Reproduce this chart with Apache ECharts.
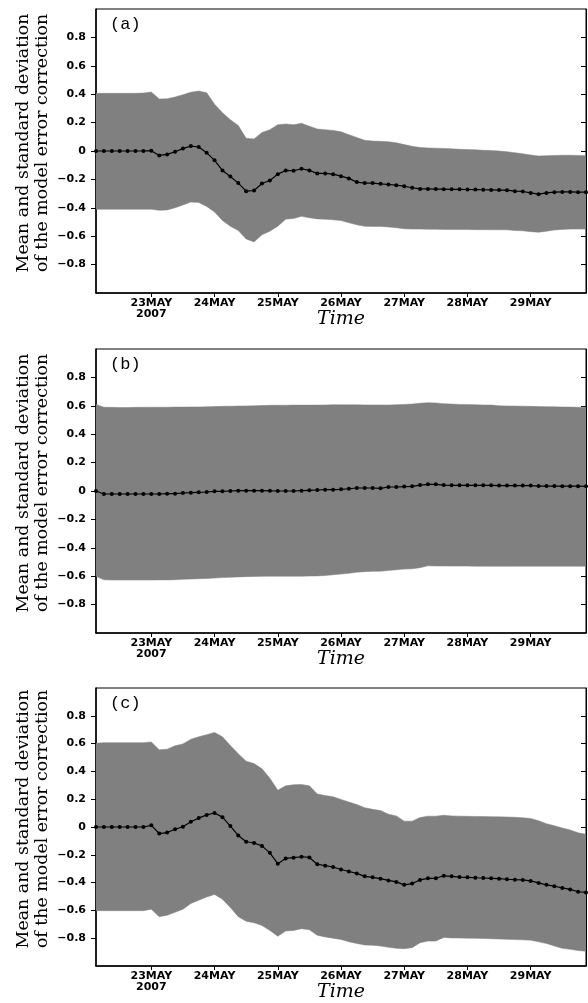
<!DOCTYPE html>
<html>
<head>
<meta charset="utf-8">
<script src="https://cdn.jsdelivr.net/npm/echarts@6/dist/echarts.min.js"></script>
<style>
html,body{margin:0;padding:0;background:#fff;}
#chart{width:588px;height:1003px;}
</style>
</head>
<body>
<div id="chart"></div>
<script>
// time axis: hours after 22 MAY 2007 00Z, 3-hourly
const hours = [3,6,9,12,15,18,21,24,27,30,33,36,39,42,45,48,51,54,57,60,63,66,69,72,75,78,81,84,87,90,93,96,99,102,105,108,111,114,117,120,123,126,129,132,135,138,141,144,147,150,153,156,159,162,165,168,171,174,177,180,183,186,189];
const tickHours = [24,48,72,96,120,144,168];
const tickLabels = ['23MAY\n2007','24MAY','25MAY','26MAY','27MAY','28MAY','29MAY'];
const yTicks = [-0.8,-0.6,-0.4,-0.2,0,0.2,0.4,0.6,0.8];
const panelTags = ['(a)','(b)','(c)'];

// panel (a)
const meanA = [0,0,0,0,0,0,0,
  0.002,-0.031,-0.024,-0.005,0.017,0.035,0.028,-0.012,
  -0.066,-0.137,-0.18,-0.226,-0.283,-0.278,-0.229,-0.208,
  -0.163,-0.137,-0.139,-0.125,-0.137,-0.158,-0.158,-0.163,
  -0.177,-0.193,-0.219,-0.226,-0.226,-0.231,-0.236,-0.241,
  -0.248,-0.259,-0.267,-0.267,-0.268,-0.269,-0.27,-0.27,
  -0.271,-0.272,-0.273,-0.274,-0.275,-0.276,-0.283,-0.285,
  -0.295,-0.304,-0.295,-0.29,-0.288,-0.288,-0.29,-0.29];
const upperA = [0.406,0.406,0.406,0.406,0.406,0.406,0.408,
  0.415,0.366,0.368,0.38,0.396,0.414,0.422,0.41,
  0.33,0.27,0.22,0.18,0.09,0.085,0.13,0.15,
  0.185,0.19,0.185,0.195,0.175,0.155,0.15,0.145,
  0.135,0.115,0.095,0.075,0.07,0.068,0.065,0.058,
  0.045,0.033,0.025,0.022,0.02,0.018,0.015,0.012,
  0.01,0.008,0.005,0.003,0.0,-0.005,-0.012,-0.02,
  -0.028,-0.035,-0.033,-0.031,-0.03,-0.03,-0.031,-0.033];
const lowerA = [-0.41,-0.41,-0.41,-0.41,-0.41,-0.41,-0.41,
  -0.41,-0.418,-0.415,-0.4,-0.38,-0.36,-0.362,-0.39,
  -0.43,-0.49,-0.53,-0.56,-0.62,-0.64,-0.59,-0.565,
  -0.53,-0.48,-0.475,-0.46,-0.47,-0.478,-0.48,-0.485,
  -0.49,-0.505,-0.52,-0.53,-0.531,-0.531,-0.535,-0.54,
  -0.548,-0.55,-0.55,-0.551,-0.551,-0.552,-0.552,-0.553,
  -0.553,-0.554,-0.554,-0.555,-0.555,-0.555,-0.56,-0.562,
  -0.568,-0.572,-0.565,-0.556,-0.552,-0.55,-0.55,-0.55];

// panel (b)
const meanB = [0,
  -0.021,-0.021,-0.021,-0.021,-0.021,-0.021,-0.021,-0.021,
  -0.019,-0.019,-0.014,-0.012,-0.009,-0.007,-0.002,-0.002,
  0,0.002,0.002,0.002,0.002,0.001,0,0,
  0,0.002,0.005,0.007,0.009,0.009,0.012,0.016,
  0.021,0.021,0.021,0.019,0.028,0.028,0.031,0.033,
  0.042,0.047,0.047,0.042,0.04,0.04,0.04,0.04,
  0.04,0.04,0.038,0.038,0.038,0.038,0.038,0.035,
  0.035,0.035,0.034,0.034,0.034,0.033];
const upperB = [0.61,
  0.59,0.589,0.588,0.588,0.589,0.59,0.59,0.59,
  0.59,0.591,0.591,0.592,0.592,0.593,0.595,0.596,
  0.597,0.598,0.599,0.6,0.602,0.603,0.604,0.604,
  0.605,0.605,0.605,0.605,0.606,0.608,0.607,0.607,
  0.607,0.606,0.606,0.606,0.605,0.608,0.61,0.612,
  0.618,0.622,0.62,0.615,0.612,0.61,0.609,0.608,
  0.606,0.605,0.6,0.599,0.598,0.597,0.596,0.595,
  0.594,0.593,0.592,0.591,0.59,0.59];
const lowerB = [-0.6,
  -0.625,-0.627,-0.627,-0.627,-0.627,-0.627,-0.627,-0.626,
  -0.626,-0.625,-0.622,-0.62,-0.618,-0.616,-0.613,-0.61,
  -0.608,-0.605,-0.603,-0.602,-0.601,-0.6,-0.6,-0.6,
  -0.6,-0.6,-0.599,-0.598,-0.595,-0.59,-0.585,-0.58,
  -0.572,-0.568,-0.566,-0.565,-0.56,-0.555,-0.55,-0.548,
  -0.54,-0.527,-0.528,-0.528,-0.529,-0.529,-0.529,-0.53,
  -0.53,-0.53,-0.53,-0.53,-0.53,-0.53,-0.53,-0.53,
  -0.53,-0.53,-0.53,-0.53,-0.53,-0.53];

// panel (c)
const meanC = [0,0,0,0,0,0,0,
  0.012,-0.047,-0.04,-0.016,0.002,0.038,0.064,0.087,
  0.101,0.071,0.007,-0.061,-0.106,-0.115,-0.136,-0.186,
  -0.264,-0.226,-0.221,-0.214,-0.219,-0.268,-0.278,-0.288,
  -0.306,-0.32,-0.334,-0.355,-0.362,-0.372,-0.384,-0.395,
  -0.416,-0.407,-0.381,-0.369,-0.369,-0.351,-0.355,-0.36,
  -0.362,-0.365,-0.367,-0.369,-0.372,-0.376,-0.379,-0.381,
  -0.388,-0.402,-0.416,-0.426,-0.438,-0.449,-0.466,-0.471];
const upperC = [0.602,0.607,0.607,0.607,0.607,0.607,0.607,
  0.612,0.555,0.56,0.584,0.598,0.631,0.649,0.664,
  0.68,0.649,0.586,0.527,0.473,0.456,0.419,0.351,
  0.264,0.296,0.304,0.306,0.296,0.238,0.226,0.218,
  0.198,0.179,0.162,0.139,0.127,0.118,0.092,0.08,
  0.042,0.042,0.068,0.078,0.078,0.085,0.08,0.078,
  0.077,0.076,0.075,0.074,0.073,0.072,0.07,0.066,
  0.061,0.045,0.024,0.009,-0.007,-0.021,-0.042,-0.052];
const lowerC = [-0.602,-0.602,-0.602,-0.602,-0.602,-0.602,-0.602,
  -0.591,-0.645,-0.635,-0.614,-0.591,-0.551,-0.527,-0.504,
  -0.485,-0.52,-0.579,-0.645,-0.678,-0.689,-0.708,-0.744,
  -0.786,-0.748,-0.744,-0.732,-0.739,-0.779,-0.791,-0.8,
  -0.809,-0.826,-0.838,-0.849,-0.851,-0.856,-0.866,-0.873,
  -0.875,-0.868,-0.833,-0.821,-0.821,-0.795,-0.798,-0.799,
  -0.8,-0.801,-0.802,-0.804,-0.806,-0.808,-0.81,-0.812,
  -0.814,-0.826,-0.838,-0.856,-0.873,-0.88,-0.889,-0.894];

const panels = [
  {top: 9, mean: meanA, upper: upperA, lower: lowerA},
  {top: 349, mean: meanB, upper: upperB, lower: lowerB},
  {top: 688, mean: meanC, upper: upperC, lower: lowerC}
];

const GRID_LEFT = 96, GRID_W = 490, GRID_H = 284;
const tickFont = 'DejaVu Sans';
const serifFont = 'DejaVu Serif';

function bandRenderer(upper, lower) {
  return function (params, api) {
    if (params.dataIndex !== 0) return null;
    const pts = [];
    for (let i = 0; i < hours.length; i++) pts.push(api.coord([hours[i], upper[i]]));
    for (let i = hours.length - 1; i >= 0; i--) pts.push(api.coord([hours[i], lower[i]]));
    return {
      type: 'polygon',
      shape: {points: pts},
      style: {fill: '#808080', stroke: '#808080', lineWidth: 0.5}
    };
  };
}

const grids = [], xAxes = [], yAxes = [], series = [], graphics = [];
panels.forEach((p, k) => {
  grids.push({left: GRID_LEFT, top: p.top, width: GRID_W, height: GRID_H,
    show: true, borderColor: '#000', borderWidth: 1, backgroundColor: 'transparent'});
  xAxes.push({
    gridIndex: k, type: 'value', min: 3, max: 189,
    axisLine: {show: true, onZero: false, lineStyle: {color: '#000', width: 1.5}},
    axisTick: {show: true, customValues: tickHours, length: 4, lineStyle: {color: '#000', width: 1}},
    axisLabel: {customValues: tickHours, color: '#000', fontFamily: tickFont, fontWeight: 'bold',
      fontSize: 11, lineHeight: 11, margin: 5,
      formatter: v => tickLabels[tickHours.indexOf(v)] || ''},
    splitLine: {show: false},
    name: 'Time', nameLocation: 'middle', nameGap: 17, nameMoveOverlap: false,
    nameTextStyle: {fontFamily: serifFont, fontStyle: 'italic', fontSize: 19, color: '#000'}
  });
  yAxes.push({
    gridIndex: k, type: 'value', min: -1, max: 1, position: 'left',
    axisLine: {show: true, onZero: false, lineStyle: {color: '#000', width: 1.5}},
    axisTick: {show: true, customValues: yTicks, length: 5, lineStyle: {color: '#000', width: 1}},
    axisLabel: {customValues: yTicks, color: '#000', fontFamily: tickFont, fontWeight: 'bold',
      fontSize: 11, margin: 10,
      formatter: v => (Math.abs(v) < 1e-9 ? '0' : v.toFixed(1).replace('-', '\u2212'))},
    splitLine: {show: false},
    name: 'Mean and standard deviation\nof the model error correction',
    nameLocation: 'middle', nameRotate: 90, nameGap: 44, nameMoveOverlap: false,
    nameTextStyle: {fontFamily: serifFont, fontSize: 17.4, lineHeight: 19, color: '#000',
      padding: [0, 0, 0, 16]}
  });
  yAxes.push({
    gridIndex: k, type: 'value', min: -1, max: 1, position: 'right',
    axisLine: {show: true, onZero: false, lineStyle: {color: '#000', width: 1}},
    axisTick: {show: true, inside: true, customValues: yTicks, length: 5, lineStyle: {color: '#000', width: 1}},
    axisLabel: {show: false},
    splitLine: {show: false}
  });
  series.push({
    type: 'custom', xAxisIndex: k, yAxisIndex: 2 * k,
    data: hours.map((h, i) => [h, p.lower[i], p.upper[i]]),
    encode: {x: 0, y: [1, 2]},
    renderItem: bandRenderer(p.upper, p.lower),
    clip: true, silent: true, z: 1
  });
  series.push({
    type: 'line', xAxisIndex: k, yAxisIndex: 2 * k,
    data: hours.map((h, i) => [h, p.mean[i]]),
    symbol: 'circle', symbolSize: 4, showSymbol: true, showAllSymbol: true,
    itemStyle: {color: '#000'}, lineStyle: {color: '#000', width: 1.2}, z: 5
  });
  graphics.push({
    type: 'text', left: 110, top: p.top + 7, z: 100,
    style: {text: panelTags[k], font: '17px "Liberation Mono"', fill: '#000'}
  });
});

const chart = echarts.init(document.getElementById('chart'), null, {renderer: 'canvas'});
chart.setOption({
  animation: false,
  backgroundColor: '#fff',
  grid: grids, xAxis: xAxes, yAxis: yAxes, series: series, graphic: graphics
});
</script>
</body>
</html>
